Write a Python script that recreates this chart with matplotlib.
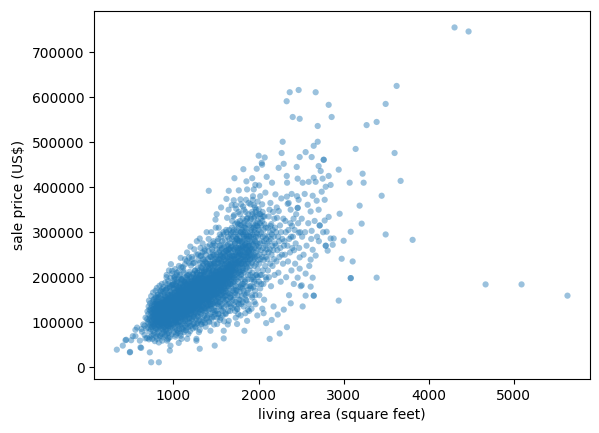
import matplotlib
matplotlib.use("Agg")
import matplotlib.pyplot as plt

# (living area in sq ft, sale price in thousand US$)
under_800 = [
    (334,39),(404,48),(436,60),(444,61),(487,33),(490,34),(503,60),(522,69),(553,69),(553,83),(572,88),
    (605,59),(612,44),(620,43),(624,85),(630,79),(645,95),(659,92),(660,72),(671,64),(672,110),(680,86),
    (690,65),(691,107),(694,124),(698,100),
    (702,88),(705,118),(708,135),(710,97),(712,62),(715,105),(718,128),(720,79),(722,33),(724,112),(726,142),
    (728,93),(730,125),(732,108),(734,84),(736,131),(738,11),(740,99),(742,118),(744,70),(746,137),(748,104),
    (750,89),(752,122),(754,145),(756,113),(758,96),(760,81),(762,129),(764,107),(766,150),(768,118),(770,92),
    (772,135),(774,101),(776,124),(778,76),(780,115),(782,140),(784,98),(786,127),(788,109),(790,155),(792,86),
    (794,119),(796,132),(798,104),(799,142),
]

area_800s = [
    (800,155),(801,124),(803,97),(804,141),(806,113),(808,63),(809,131),(811,105),(812,148),(814,88),(816,120),
    (817,136),(819,109),(820,94),(822,127),(823,156),(825,116),(826,79),(828,11),(829,134),(830,102),(832,122),
    (833,145),(835,91),(836,113),(838,130),(839,68),(841,118),(842,139),(844,99),(845,125),(847,107),(848,160),
    (850,115),(851,86),(853,132),(854,121),(856,143),(857,96),(859,110),(860,128),(862,74),(863,137),(865,104),
    (866,119),(867,173),(868,59),(869,126),(871,93),(872,114),(874,150),(875,108),(877,131),(878,82),(880,121),
    (881,140),(883,100),(884,117),(886,135),(887,89),(889,124),(890,165),(892,111),(893,129),(895,97),(896,144),
    (898,118),(899,106),(805,118),(815,128),(825,100),(835,139),(845,112),(855,127),(865,134),(875,121),
    (885,112),(895,131),(810,85),(850,147),(870,103),(890,138),(860,118),(840,107),
]

area_900s = [
    (901,128),(902,99),(904,145),(905,117),(907,136),(908,84),(910,124),(911,156),(913,108),(914,131),(916,95),
    (917,142),(919,119),(920,175),(922,103),(923,137),(925,126),(926,59),(928,113),(929,149),(931,91),(932,128),
    (934,118),(935,160),(937,106),(938,134),(940,122),(941,76),(943,143),(944,111),(946,129),(947,97),(949,153),
    (950,117),(952,138),(953,125),(955,102),(956,168),(957,37),(958,132),(960,114),(961,146),(963,88),(964,121),
    (965,48),(966,139),(968,108),(969,130),(971,157),(972,119),(974,96),(975,135),(977,127),(978,182),(980,112),
    (981,144),(983,104),(984,131),(986,123),(987,162),(989,98),(990,137),(992,116),(993,150),(995,126),(996,187),
    (998,109),(999,141),(903,112),(912,139),(921,126),(930,104),(939,147),(948,133),(954,115),(962,127),(970,142),
    (979,120),(988,134),(997,125),(906,152),(915,115),(927,138),(936,125),(945,100),(951,146),(959,129),(967,118),
    (976,148),(985,113),(994,132),(909,121),(918,133),(924,93),(933,142),(942,130),(951,120),(973,124),(982,137),
    (991,128),(918,200),(985,214),(942,65),(970,229),
]

area_1000s = [
    (1001,135),(1002,112),(1004,151),(1005,127),(1007,98),(1008,143),(1010,120),(1011,166),(1012,199),(1014,131),
    (1015,108),(1017,147),(1018,124),(1020,85),(1021,139),(1023,116),(1024,158),(1026,133),(1027,104),(1029,145),
    (1030,122),(1032,176),(1033,137),(1035,188),(1036,114),(1038,150),(1039,128),(1041,95),(1042,141),(1044,119),
    (1045,162),(1047,134),(1048,107),(1050,148),(1051,125),(1053,139),(1054,171),(1056,117),(1057,143),(1059,130),
    (1060,101),(1062,54),(1063,155),(1065,123),(1066,137),(1068,111),(1069,149),(1071,128),(1072,182),(1074,140),
    (1075,118),(1077,156),(1078,132),(1080,92),(1081,145),(1083,124),(1084,165),(1086,136),(1087,113),(1089,151),
    (1090,129),(1092,142),(1093,194),(1094,63),(1096,120),(1097,158),(1099,135),(1003,141),(1009,129),(1016,137),
    (1022,150),(1028,126),(1034,143),(1040,133),(1046,152),(1052,118),(1058,139),(1064,131),(1070,160),(1076,127),
    (1082,148),(1088,138),(1095,146),(1006,118),(1013,154),(1019,144),(1025,121),(1031,135),(1037,161),(1043,129),
    (1049,136),(1055,145),(1061,126),(1067,168),(1073,133),(1079,142),(1085,119),(1091,153),(1098,127),(1010,174),
    (1040,210),(1065,225),(1085,243),(1030,72),(1055,80),(1078,75),(1099,88),(1012,201),
]

area_1100s = [
    (1101,148),(1102,124),(1104,163),(1105,139),(1107,110),(1108,155),(1110,131),(1111,178),(1113,144),(1114,119),
    (1116,160),(1117,136),(1119,97),(1120,152),(1122,127),(1123,171),(1125,145),(1126,115),(1128,158),(1129,133),
    (1131,190),(1132,149),(1134,123),(1135,165),(1137,140),(1138,106),(1140,156),(1141,188),(1143,130),(1144,174),
    (1146,147),(1147,120),(1149,161),(1150,137),(1152,152),(1153,199),(1155,128),(1156,168),(1158,143),(1159,113),
    (1161,63),(1162,157),(1164,135),(1165,183),(1167,149),(1168,124),(1170,165),(1171,141),(1173,101),(1174,154),
    (1176,131),(1177,176),(1179,147),(1180,118),(1182,160),(1183,138),(1185,206),(1186,151),(1188,127),(1189,170),
    (1191,144),(1192,109),(1194,158),(1195,134),(1197,185),(1198,149),(1103,150),(1109,142),(1115,168),(1121,138),
    (1127,150),(1133,160),(1139,132),(1145,155),(1151,145),(1157,172),(1163,140),(1169,152),(1175,162),(1181,136),
    (1187,157),(1193,146),(1106,133),(1112,158),(1118,147),(1124,162),(1130,126),(1136,151),(1142,139),(1148,164),
    (1154,136),(1160,149),(1166,158),(1172,129),(1178,153),(1184,144),(1190,167),(1196,140),(1110,222),(1135,240),
    (1160,255),(1185,232),(1199,268),(1120,82),(1150,88),(1175,74),(1196,92),
]

area_1200s = [
    (1201,160),(1203,135),(1204,178),(1206,150),(1207,120),(1209,168),(1210,143),(1212,192),(1213,157),(1215,130),
    (1216,175),(1218,148),(1219,108),(1221,165),(1222,139),(1224,186),(1225,156),(1227,126),(1228,172),(1230,146),
    (1231,231),(1233,161),(1234,134),(1236,181),(1237,152),(1239,117),(1240,169),(1242,144),(1243,200),(1245,158),
    (1246,131),(1248,177),(1249,150),(1251,165),(1252,214),(1254,140),(1255,185),(1257,155),(1258,123),(1260,172),
    (1261,147),(1263,195),(1264,160),(1266,136),(1267,180),(1269,153),(1270,63),(1271,167),(1273,142),(1274,206),
    (1276,158),(1277,129),(1279,175),(1280,150),(1282,189),(1283,163),(1285,138),(1286,220),(1288,157),(1289,112),
    (1291,170),(1292,146),(1294,198),(1295,161),(1297,134),(1298,183),(1202,172),(1208,155),(1214,163),(1220,152),
    (1226,170),(1232,148),(1238,165),(1244,174),(1250,156),(1256,168),(1262,145),(1268,176),(1275,162),(1281,171),
    (1287,149),(1293,166),(1205,141),(1211,180),(1217,160),(1223,145),(1229,158),(1235,166),(1241,153),(1247,190),
    (1253,149),(1259,162),(1265,171),(1272,155),(1278,184),(1284,152),(1290,160),(1296,174),(1215,245),(1245,262),
    (1275,280),(1290,251),(1230,96),(1260,88),(1285,99),(1299,78),(1270,59),
]

area_1300s = [
    (1301,171),(1303,145),(1304,190),(1306,160),(1307,128),(1309,41),(1310,180),(1312,153),(1313,205),(1315,168),
    (1316,139),(1317,247),(1319,185),(1320,158),(1322,118),(1323,176),(1325,150),(1326,198),(1328,165),(1329,135),
    (1331,188),(1332,162),(1334,213),(1335,172),(1337,144),(1338,193),(1340,166),(1341,126),(1343,180),(1344,155),
    (1346,226),(1347,175),(1349,148),(1350,196),(1352,168),(1353,138),(1355,184),(1356,159),(1358,210),(1359,177),
    (1361,150),(1362,239),(1364,170),(1365,132),(1367,188),(1368,163),(1370,202),(1371,181),(1373,154),(1374,195),
    (1376,168),(1377,121),(1379,185),(1380,160),(1382,218),(1383,176),(1385,146),(1386,192),(1388,170),(1389,137),
    (1391,183),(1392,157),(1394,230),(1395,178),(1397,151),(1398,197),(1309,83),(1309,286),(1302,182),(1308,168),
    (1314,176),(1321,192),(1327,170),(1333,181),(1339,173),(1345,188),(1351,178),(1357,167),(1363,186),(1369,175),
    (1375,190),(1381,172),(1387,183),(1393,167),(1399,188),(1318,265),(1342,275),(1366,258),(1390,300),(1330,95),
    (1355,104),(1378,90),(1396,110),
]

area_1400s = [
    (1401,180),(1403,152),(1404,200),(1406,170),(1407,138),(1409,190),(1410,163),(1412,218),(1413,178),(1415,392),
    (1416,148),(1418,195),(1419,168),(1421,130),(1422,186),(1424,160),(1425,210),(1427,176),(1428,145),(1430,198),
    (1431,172),(1433,228),(1434,184),(1435,81),(1436,155),(1437,204),(1439,175),(1440,136),(1442,190),(1443,166),
    (1445,245),(1446,186),(1448,158),(1449,208),(1451,178),(1452,147),(1454,195),(1455,170),(1457,222),(1458,188),
    (1460,160),(1461,256),(1463,180),(1464,141),(1466,200),(1467,173),(1469,215),(1470,190),(1472,163),(1473,206),
    (1475,178),(1476,127),(1478,196),(1479,170),(1481,234),(1482,186),(1484,154),(1485,48),(1486,203),(1488,180),
    (1490,145),(1491,193),(1493,167),(1494,328),(1496,212),(1497,184),(1499,158),(1405,186),(1411,195),(1417,182),
    (1423,199),(1429,188),(1438,196),(1444,177),(1450,192),(1456,184),(1462,199),(1468,185),(1474,193),(1480,181),
    (1487,195),(1495,188),(1414,285),(1444,300),(1471,275),(1498,310),(1420,100),(1453,112),(1477,95),(1492,118),
    (1459,270),
]

area_1500s = [
    (1501,190),(1503,162),(1504,212),(1506,180),(1507,147),(1509,201),(1510,173),(1512,230),(1513,96),(1514,188),
    (1516,157),(1517,208),(1519,178),(1520,140),(1522,196),(1523,170),(1525,222),(1526,186),(1528,154),(1529,210),
    (1531,182),(1532,310),(1534,195),(1535,165),(1537,240),(1538,200),(1540,172),(1541,145),(1543,215),(1544,189),
    (1546,160),(1547,226),(1549,198),(1550,176),(1552,250),(1553,205),(1555,168),(1556,218),(1558,190),(1559,136),
    (1561,208),(1562,181),(1564,235),(1565,196),(1567,163),(1568,214),(1570,186),(1571,265),(1573,200),(1574,171),
    (1576,228),(1577,193),(1579,150),(1580,210),(1582,184),(1583,245),(1585,198),(1586,166),(1588,220),(1589,190),
    (1591,81),(1592,205),(1594,176),(1595,238),(1597,195),(1598,158),(1502,198),(1511,205),(1521,190),(1530,200),
    (1539,193),(1548,207),(1557,199),(1566,204),(1575,192),(1584,208),(1593,200),(1518,280),(1545,295),(1563,272),
    (1587,300),(1527,118),(1554,110),(1578,125),(1596,102),(1591,64),(1508,340),(1560,355),
]

area_1600s = [
    (1601,203),(1603,174),(1604,226),(1606,192),(1607,158),(1609,215),(1610,186),(1612,248),(1613,200),(1615,169),
    (1616,236),(1618,207),(1619,150),(1621,220),(1622,195),(1623,374),(1625,260),(1626,212),(1628,180),(1629,230),
    (1631,332),(1632,204),(1634,166),(1635,242),(1637,216),(1638,188),(1640,272),(1641,222),(1643,198),(1644,140),
    (1646,235),(1647,210),(1649,178),(1650,392),(1651,252),(1653,218),(1654,192),(1656,285),(1657,228),(1659,200),
    (1660,163),(1662,245),(1663,214),(1665,185),(1666,262),(1668,224),(1669,205),(1671,155),(1672,238),(1674,210),
    (1675,298),(1677,230),(1678,196),(1680,255),(1681,219),(1683,176),(1684,242),(1686,212),(1687,310),(1689,228),
    (1690,325),(1692,202),(1693,268),(1695,222),(1696,189),(1698,248),(1608,200),(1617,212),(1627,206),(1636,221),
    (1645,214),(1655,208),(1664,226),(1673,218),(1682,230),(1691,215),(1650,103),(1614,118),(1639,95),(1667,125),
    (1694,132),(1620,305),(1648,350),(1685,360),
]

area_1700s = [
    (1701,214),(1703,185),(1704,240),(1705,335),(1707,200),(1709,371),(1710,228),(1712,172),(1713,262),(1715,210),
    (1716,190),(1718,248),(1719,222),(1721,160),(1722,275),(1724,232),(1725,205),(1727,256),(1729,360),(1730,218),
    (1731,180),(1733,290),(1734,238),(1736,212),(1737,266),(1739,195),(1740,228),(1742,305),(1743,250),(1745,220),
    (1746,170),(1748,96),(1749,262),(1751,235),(1752,129),(1754,282),(1755,208),(1757,245),(1758,225),(1760,190),
    (1761,318),(1763,255),(1764,230),(1766,270),(1768,393),(1769,215),(1770,150),(1772,248),(1773,292),(1775,236),
    (1776,200),(1778,265),(1779,227),(1781,340),(1782,252),(1784,212),(1785,280),(1787,373),(1788,317),(1790,240),
    (1791,178),(1793,268),(1794,230),(1796,300),(1797,250),(1799,206),(1711,245),(1726,238),(1741,232),(1756,258),
    (1771,236),(1786,255),(1732,110),(1762,118),(1795,140),(1717,420),
]

area_1800s = [
    (1801,228),(1803,196),(1805,258),(1806,215),(1808,280),(1810,240),(1811,185),(1813,300),(1815,250),(1816,220),
    (1818,268),(1819,357),(1821,235),(1823,170),(1824,290),(1826,245),(1828,210),(1829,320),(1831,262),(1833,230),
    (1834,81),(1836,285),(1838,248),(1839,195),(1841,272),(1843,238),(1844,310),(1846,255),(1848,218),(1849,345),
    (1851,266),(1853,230),(1854,160),(1856,295),(1858,413),(1859,250),(1861,275),(1863,222),(1864,330),(1866,395),
    (1867,260),(1869,240),(1871,300),(1873,332),(1874,205),(1876,268),(1878,245),(1879,285),(1881,230),(1883,365),
    (1884,258),(1886,140),(1888,292),(1889,248),(1891,270),(1893,215),(1894,315),(1896,262),(1898,238),(1899,280),
    (1866,103),(1845,120),(1875,128),(1812,265),(1842,276),(1872,254),(1897,180),(1822,440),
]

area_1900s = [
    (1901,240),(1903,205),(1905,328),(1907,265),(1909,225),(1911,290),(1913,250),(1915,180),(1917,305),(1919,262),
    (1921,232),(1923,345),(1925,278),(1927,245),(1929,210),(1931,295),(1933,258),(1935,380),(1937,272),(1939,238),
    (1941,310),(1943,195),(1944,395),(1945,360),(1947,285),(1949,250),(1951,225),(1953,300),(1955,265),(1957,335),
    (1959,242),(1961,280),(1963,160),(1965,315),(1967,255),(1969,290),(1971,230),(1973,350),(1975,270),(1977,205),
    (1979,441),(1981,298),(1983,314),(1985,248),(1987,275),(1989,218),(1991,325),(1993,262),(1995,290),(1997,238),
    (1999,305),(1918,130),(1952,145),(1986,115),(1926,420),(1962,405),
]

area_2000s = [
    (2002,470),(2003,351),(2005,268),(2007,404),(2009,230),(2011,295),(2014,250),(2016,320),(2018,205),(2021,275),
    (2023,340),(2025,240),(2028,300),(2030,260),(2033,185),(2035,315),(2038,454),(2040,280),(2042,450),(2043,362),
    (2044,325),(2046,245),(2049,290),(2051,215),(2054,335),(2056,265),(2059,305),(2061,238),(2064,280),(2066,150),
    (2069,318),(2071,255),(2073,466),(2075,292),(2078,225),(2081,388),(2083,270),(2086,310),(2088,245),(2091,285),
    (2093,195),(2096,423),(2098,262),(2060,120),(2090,98),
    (2102,275),(2105,240),(2108,310),(2111,215),(2114,290),(2117,255),(2120,335),(2123,200),(2126,280),(2129,350),
    (2131,63),(2133,262),(2136,300),(2139,230),(2140,365),(2141,314),(2144,285),(2147,180),(2150,318),(2153,250),
    (2156,295),(2159,410),(2162,270),(2165,225),(2168,305),(2171,345),(2174,260),(2177,135),(2180,290),(2183,240),
    (2186,330),(2189,205),(2192,275),(2195,310),(2199,384),(2155,105),
]

area_2200_3000 = [
    (2203,270),(2207,300),(2211,235),(2215,355),(2218,332),(2222,260),(2226,117),(2230,290),(2234,210),(2237,443),
    (2238,347),(2242,280),(2246,245),(2249,75),(2253,315),(2257,265),(2261,190),(2265,300),(2268,375),(2272,476),
    (2276,250),(2280,285),(2284,501),(2288,230),(2292,330),(2296,452),(2297,128),(2299,270),
    (2305,280),(2310,250),(2316,325),(2320,300),(2325,200),(2331,591),(2332,425),(2333,379),(2334,89),(2336,410),
    (2340,270),(2343,363),(2347,235),(2351,305),(2355,365),(2359,160),(2362,285),(2367,611),(2371,255),(2375,320),
    (2378,350),(2379,142),(2383,290),(2387,215),(2390,385),(2395,314),(2398,265),
    (2402,556),(2449,445),(2453,380),(2460,419),(2460,354),(2461,354),(2460,199),(2472,616),(2472,372),(2472,299),
    (2484,552),(2484,467),(2484,244),(2484,219),(2405,290),(2412,330),(2418,260),(2425,305),(2431,230),(2437,275),
    (2443,340),(2466,320),(2478,265),(2490,300),(2496,180),(2415,185),
    (2508,330),(2508,182),(2519,410),(2519,135),(2543,385),(2554,478),(2554,208),(2554,159),(2578,361),(2590,412),
    (2513,290),(2530,250),(2548,300),(2565,270),(2585,320),(2597,225),
    (2613,346),(2613,239),(2613,179),(2625,467),(2625,303),(2637,381),(2637,261),(2637,199),(2649,492),(2649,421),
    (2649,159),(2650,159),(2672,611),(2672,412),(2672,248),(2684,370),(2696,536),(2696,501),(2620,285),(2660,325),
    (2688,290),
    (2707,447),(2707,350),(2719,315),(2720,315),(2731,436),(2743,390),(2754,419),(2766,461),(2767,461),(2778,372),
    (2778,326),(2790,401),(2790,270),(2791,270),(2710,280),(2760,300),
    (2801,301),(2813,259),(2825,583),(2825,425),(2825,334),(2848,405),(2848,286),(2860,556),(2872,272),(2884,286),
    (2943,439),(2943,148),(2954,341),(2978,241),
]

over_3000 = [
    (3001,281),(3072,410),(3084,301),(3084,198),(3085,198),(3107,235),(3142,485),(3189,359),(3213,319),(3224,430),
    (3236,410),(3271,538),(3389,545),(3389,199),(3448,381),(3495,585),(3495,295),(3600,476),(3624,625),(3671,414),
    (3812,283),(4305,755),(4470,746),(4670,184),(5093,184),(5633,159),
]

# wider spread above and below the main ridge of the cloud
core_spread = [
    (712,148),(725,66),(738,158),(745,90),(752,63),(760,166),(768,72),(775,152),(781,58),(790,170),(797,68),
    (805,176),(812,75),(820,162),(828,55),(836,181),(843,70),(851,168),(858,92),(864,185),(872,66),(880,178),
    (887,78),(894,160),(899,72),
    (903,188),(907,70),(911,172),(916,82),(920,205),(925,75),(929,176),(934,62),(938,192),(943,88),(947,215),
    (952,80),(956,180),(961,67),(965,198),(970,91),(974,170),(979,73),(983,208),(988,86),(992,183),(997,95),
    (1001,175),(1005,78),(1010,195),(1014,90),(1019,218),(1023,68),(1028,182),(1032,99),(1037,205),(1041,82),
    (1046,190),(1050,76),(1055,212),(1059,93),(1064,178),(1068,85),(1073,200),(1077,101),(1082,186),(1086,70),
    (1091,222),(1095,96),(1099,176),(1015,165),(1045,105),(1070,170),(1090,110),(960,160),
    (1102,196),(1106,85),(1110,182),(1114,103),(1118,215),(1122,78),(1126,190),(1130,110),(1134,228),(1138,92),
    (1142,200),(1146,82),(1150,184),(1154,115),(1158,236),(1162,96),(1166,205),(1170,88),(1174,190),(1178,108),
    (1182,244),(1186,99),(1190,212),(1194,80),(1198,195),(1202,118),(1206,226),(1210,92),(1214,200),(1218,105),
    (1222,240),(1226,86),(1230,208),(1234,112),(1238,190),(1242,98),(1246,232),(1250,120),(1254,215),(1258,90),
    (1262,198),(1266,108),(1270,250),(1274,96),(1278,210),(1282,115),(1286,195),(1290,103),(1294,238),(1298,122),
    (1105,170),(1145,172),(1185,180),(1225,185),(1265,190),(1125,125),(1165,118),(1205,126),(1245,130),(1285,132),
    (1302,215),(1306,105),(1310,232),(1314,122),(1318,205),(1322,96),(1326,248),(1330,128),(1334,220),(1338,110),
    (1342,255),(1346,100),(1350,230),(1354,132),(1358,212),(1362,115),(1366,262),(1370,98),(1374,235),(1378,125),
    (1382,250),(1386,108),(1390,222),(1394,135),(1398,268),(1402,115),(1406,240),(1410,128),(1414,258),(1418,102),
    (1422,230),(1426,138),(1430,272),(1434,118),(1438,245),(1442,130),(1446,226),(1450,108),(1454,262),(1458,140),
    (1462,238),(1466,122),(1470,280),(1474,112),(1478,250),(1482,135),(1486,232),(1490,125),(1494,270),(1498,142),
    (1320,145),(1350,150),(1380,142),(1410,150),(1440,150),(1470,155),(1335,200),(1365,205),(1425,215),(1485,220),
    (1503,245),(1507,125),(1511,262),(1515,110),(1519,240),(1523,145),(1527,285),(1531,118),(1535,255),(1539,135),
    (1543,270),(1547,105),(1551,248),(1555,150),(1559,290),(1563,128),(1567,262),(1571,140),(1575,280),(1579,115),
    (1583,252),(1587,155),(1591,295),(1595,132),(1599,268),(1603,145),(1607,282),(1611,120),(1615,258),(1619,160),
    (1623,300),(1627,138),(1631,270),(1635,150),(1639,290),(1643,125),(1647,262),(1651,165),(1655,305),(1659,142),
    (1663,275),(1667,155),(1671,295),(1675,135),(1679,268),(1683,160),(1687,285),(1691,148),(1695,300),(1699,170),
    (1520,165),(1560,170),(1600,180),(1640,185),(1680,190),
    (1702,290),(1706,150),(1710,305),(1714,138),(1718,280),(1722,165),(1726,318),(1730,145),(1734,300),(1738,172),
    (1742,285),(1746,130),(1750,322),(1754,160),(1758,295),(1762,178),(1766,310),(1770,140),(1774,282),(1778,168),
    (1782,325),(1786,150),(1790,300),(1794,182),(1798,315),(1802,158),(1806,305),(1810,175),(1814,330),(1818,145),
    (1822,295),(1826,185),(1830,312),(1834,162),(1838,300),(1842,190),(1846,325),(1850,150),(1854,308),(1858,180),
    (1862,290),(1866,165),(1870,318),(1874,195),(1878,172),
    (1904,300),(1908,175),(1912,330),(1916,195),(1920,310),(1924,160),(1928,340),(1932,200),(1936,318),(1940,178),
    (1946,332),(1950,190),(1956,305),(1960,170),(1966,345),(1970,205),(1976,320),(1980,185),(1986,338),(1990,200),
    (1996,312),(2006,190),(2012,340),(2020,175),(2028,330),(2036,205),(2048,345),(2058,185),(2070,335),(2085,200),
    (1712,338),(1738,352),(1765,345),(1795,362),(1828,350),(1852,372),(1880,340),(1905,362),(1932,372),(1958,355),
    (1990,368),(2020,380),(1725,125),(1760,142),(1790,115),(1825,135),(1858,148),(1890,125),(1925,155),(1965,140),
    (2010,160),(2045,130),
]

# extra points filling the darkest part of the cloud
core_fill = [
    (815,105),(822,140),(838,118),(846,132),(858,101),(866,144),(874,126),(882,110),(891,150),(897,123),
    (906,137),(913,118),(921,150),(927,108),(936,141),(944,126),(953,160),(959,112),(967,145),(975,120),
    (984,155),(990,132),(999,117),(1008,160),(1016,128),(1025,148),(1033,112),(1042,170),(1049,142),(1057,122),
    (1066,155),(1074,114),(1083,165),(1091,137),(1098,150),(1107,125),(1115,178),(1123,143),(1131,158),(1140,120),
    (1148,185),(1156,140),(1164,165),(1172,128),(1180,174),(1188,136),(1197,160),(1205,190),(1213,144),(1221,172),
    (1229,130),(1237,182),(1245,150),(1253,196),(1261,138),(1269,166),(1277,188),(1285,150),(1293,178),(1300,140),
    (1311,195),(1319,160),(1327,183),(1336,148),(1344,205),(1352,170),(1361,190),(1369,158),(1377,212),(1386,175),
    (1394,150),(1403,198),(1412,170),(1420,220),(1429,160),(1437,188),(1446,210),(1455,165),(1463,195),(1472,230),
    (1481,172),(1489,205),(1497,180),(1508,215),(1517,188),(1526,232),(1536,178),(1545,205),(1554,240),(1562,195),
    (1572,220),(1581,180),(1590,245),(1600,208),(1612,230),(1624,192),(1636,255),(1648,218),(1660,240),(1672,200),
    (753,112),(757,128),(763,95),(769,140),(771,108),(779,131),(783,117),(787,88),(793,146),(797,122),
    (802,135),(807,101),(813,160),(818,114),(824,142),(827,92),(834,126),(837,155),(843,109),(849,137),
    (852,98),(861,152),(864,116),(868,131),(873,168),(879,105),(882,143),(888,120),(891,97),(897,158),
    (902,133),(906,110),(909,171),(915,127),(919,146),(924,101),(931,139),(933,162),(939,115),(941,150),
    (946,92),(954,135),(957,178),(962,119),(966,155),(969,104),(976,140),(981,166),(986,116),(989,183),
    (994,128),(998,150),(955,96),(935,185),(905,89),(877,85),(848,170),(820,130),(792,102),(766,120),
    (1004,118),(1008,185),(1013,140),(1017,103),(1021,162),(1026,127),(1031,196),(1034,150),(1038,111),(1043,175),
    (1046,135),(1052,158),(1056,98),(1061,188),(1063,142),(1068,120),(1072,167),(1077,205),(1079,131),(1084,110),
    (1088,178),(1092,148),(1096,125),(1101,192),(1104,156),(1109,107),(1112,172),(1117,138),(1121,210),(1124,118),
    (1129,165),(1133,145),(1137,186),(1141,102),(1144,160),(1149,128),(1153,176),(1157,150),(1161,115),(1166,195),
    (1169,137),(1173,170),(1177,124),(1181,188),(1184,154),(1189,108),(1193,179),(1196,142),(1201,200),(1204,125),
    (1209,162),(1212,138),(1217,185),(1221,118),(1224,170),(1228,150),(1233,206),(1236,132),(1241,175),(1244,112),
    (1249,192),(1252,158),(1257,140),(1261,182),(1264,126),(1268,200),(1272,165),(1276,145),(1281,210),(1284,120),
    (1288,178),(1292,155),(1296,135),(1299,196),(1025,100),(1058,176),(1092,196),(1127,182),(1163,203),(1198,170),
    (1232,178),(1267,152),(1015,152),(1050,130),(1085,150),(1120,158),(1155,132),(1190,140),(1225,160),(1260,170),
    (1303,160),(1307,205),(1311,142),(1316,185),(1319,128),(1324,222),(1328,176),(1332,150),(1337,198),(1341,135),
    (1345,240),(1348,165),(1354,190),(1357,145),(1362,215),(1366,172),(1371,130),(1374,208),(1379,158),(1383,232),
    (1387,180),(1392,142),(1396,198),(1401,166),(1405,225),(1409,150),(1413,190),(1418,212),(1421,160),(1426,245),
    (1431,182),(1435,140),(1439,205),(1444,168),(1447,230),(1452,185),(1457,152),(1461,215),(1465,175),(1469,250),
    (1474,195),(1478,160),(1483,225),(1487,180),(1492,240),(1496,165),(1502,210),(1505,185),(1510,250),(1514,170),
    (1518,222),(1523,195),(1528,155),(1532,238),(1536,205),(1541,180),(1545,260),(1549,215),(1553,178),(1558,232),
    (1563,205),(1566,160),(1570,248),(1575,212),(1579,188),(1584,230),(1588,170),(1593,255),(1597,215),(1602,190),
    (1606,240),(1611,205),(1616,175),(1620,258),(1625,222),(1630,198),(1634,245),(1639,212),(1644,180),(1648,262),
    (1653,228),(1658,200),(1662,250),(1667,215),(1672,185),(1676,265),(1681,232),(1686,205),(1690,248),(1697,220),
    (1703,225),(1708,262),(1714,198),(1719,240),(1725,275),(1731,215),(1736,250),(1742,200),(1747,285),(1753,232),
    (1759,265),(1764,210),(1770,248),(1775,280),(1781,222),(1787,262),(1792,205),(1798,242),(1803,278),(1809,230),
    (1815,268),(1820,215),(1826,255),(1832,290),(1837,240),(1843,272),(1849,225),(1855,262),(1861,245),(1868,285),
    (1874,235),(1880,270),(1887,255),(1893,290),(1900,250),(1912,275),(1925,262),(1940,290),(1955,245),(1970,278),
]

groups = [under_800, area_800s, area_900s, area_1000s, area_1100s, area_1200s, area_1300s,
          area_1400s, area_1500s, area_1600s, area_1700s, area_1800s, area_1900s, area_2000s,
          area_2200_3000, over_3000, core_spread, core_fill]
living_area = [a for g in groups for a, p in g]
sale_price = [p * 1000 for g in groups for a, p in g]

fig = plt.figure(figsize=(5.99, 4.33), dpi=100)
ax = fig.add_axes([0.1574, 0.1247, 0.8276, 0.8506])
ax.scatter(living_area, sale_price, s=20, alpha=0.45, edgecolors='none')
ax.set_xlabel('living area (square feet)')
ax.set_ylabel('sale price (US$)')
fig.savefig('out.png', dpi=100)
